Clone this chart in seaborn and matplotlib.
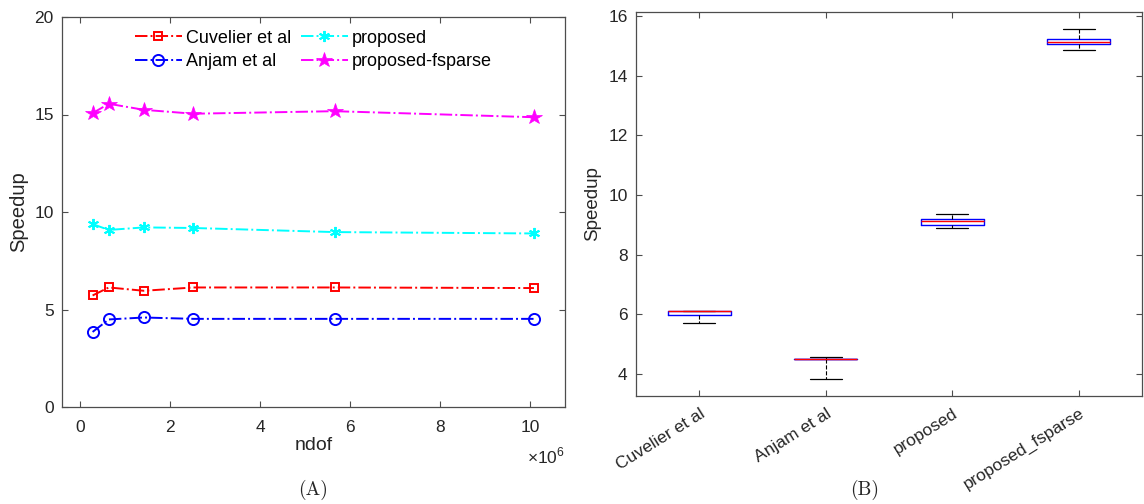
import numpy as np
import pandas as pd
import matplotlib
matplotlib.use("Agg")
import matplotlib.pyplot as plt
import seaborn as sns
from matplotlib.ticker import FuncFormatter

# ---- data ----
ndof = [0.28e6, 0.64e6, 1.42e6, 2.52e6, 5.66e6, 10.09e6]
cuvelier = [5.72, 6.13, 5.96, 6.13, 6.13, 6.10]
anjam = [3.85, 4.49, 4.59, 4.52, 4.52, 4.52]
proposed = [9.38, 9.08, 9.21, 9.18, 8.97, 8.90]
proposed_fsparse = [15.07, 15.55, 15.24, 15.04, 15.17, 14.86]

series_labels = ["Cuvelier et al", "Anjam et al", "proposed", "proposed-fsparse"]
box_labels = ["Cuvelier et al", "Anjam et al", "proposed", "proposed_fsparse"]

sns.set_theme(style="white")
plt.rcParams['font.family'] = ['Liberation Sans', 'DejaVu Sans']
plt.rcParams['mathtext.fontset'] = 'custom'
plt.rcParams['mathtext.rm'] = 'Liberation Sans'
plt.rcParams['axes.unicode_minus'] = False

fig = plt.figure(figsize=(11.44, 5.04), dpi=100)
axA = fig.add_axes([62/1144, (504-407)/504, 503/1144, 390/504])
axB = fig.add_axes([636/1144, (504-396)/504, 506/1144, 384/504])

tick_color = '#262626'
spine_color = '#4d4d4d'

# ---- Panel A ----
styles = [
    dict(color='red', marker='s', markersize=6, markerfacecolor='none',
         markeredgecolor='red', markeredgewidth=1.4),
    dict(color='blue', marker='o', markersize=8, markerfacecolor='none',
         markeredgecolor='blue', markeredgewidth=1.4),
    dict(color='cyan', marker=(6, 2, 0), markersize=8,
         markeredgecolor='cyan', markeredgewidth=1.4),
    dict(color='magenta', marker='*', markersize=11.5, markerfacecolor='magenta',
         markeredgecolor='magenta', markeredgewidth=0.5),
]
for vals, lab, st in zip([cuvelier, anjam, proposed, proposed_fsparse], series_labels, styles):
    df = pd.DataFrame({"ndof": ndof, "Speedup": vals})
    sns.lineplot(data=df, x="ndof", y="Speedup", ax=axA, label=lab,
                 linestyle='-.', linewidth=1.4, **st)

axA.set_xlim(-0.4e6, 10.78e6)
axA.set_ylim(0, 20)
axA.set_yticks([0, 5, 10, 15, 20])
axA.set_xticks([0, 2e6, 4e6, 6e6, 8e6, 10e6])
axA.xaxis.set_major_formatter(FuncFormatter(lambda v, p: f"{v/1e6:g}"))
axA.set_xlabel("ndof", fontsize=14, color=tick_color, labelpad=2)
axA.set_ylabel("Speedup", fontsize=14.5, color=tick_color, labelpad=4)
axA.text(1.0, -0.1, r"$\times10^{6}$", transform=axA.transAxes, ha='right', va='top',
         fontsize=12.5, color=tick_color)
leg = axA.legend(ncol=2, frameon=False, loc='upper center', bbox_to_anchor=(0.5, 1.0),
                 fontsize=13, handlelength=2.6, columnspacing=0.5, handletextpad=0.25,
                 labelspacing=0.35, borderaxespad=0.3)
for t in leg.get_texts():
    t.set_color('black')

# ---- Panel B ----
long_df = pd.DataFrame({
    "method": np.repeat(box_labels, len(ndof)),
    "Speedup": np.concatenate([cuvelier, anjam, proposed, proposed_fsparse]),
})
sns.boxplot(data=long_df, x="method", y="Speedup", ax=axB, order=box_labels,
            fill=False, color='blue', width=0.5, whis=(0, 100), showfliers=False,
            linewidth=1.0,
            boxprops=dict(color='blue', linewidth=1.0),
            medianprops=dict(color='red', linewidth=1.0),
            whiskerprops=dict(color='black', linestyle='--', linewidth=0.8),
            capprops=dict(color='black', linewidth=0.9))
axB.set_xlim(0.5 - 1, 4.5 - 1)
axB.set_ylim(3.27, 16.13)
axB.set_yticks([4, 6, 8, 10, 12, 14, 16])
axB.set_xlabel("")
axB.set_ylabel("Speedup", fontsize=13.5, color=tick_color, labelpad=5)

for ax in (axA, axB):
    ax.tick_params(axis='both', which='major', direction='in', length=4, width=0.8,
                   top=True, right=True, bottom=True, left=True,
                   labelsize=12.5, labelcolor=tick_color, color=spine_color, pad=6)
    for s in ax.spines.values():
        s.set_visible(True)
        s.set_color(spine_color)
        s.set_linewidth(0.9)

axA.tick_params(axis='x', pad=9)
axB.tick_params(axis='x', pad=7)
for lbl in axB.get_xticklabels():
    lbl.set_rotation(32)
    lbl.set_ha('right')
    lbl.set_rotation_mode('anchor')

fig.text(313/1144, 1 - 490/504, "(A)", ha='center', va='center', fontsize=14,
         family=['cmr10', 'Liberation Serif', 'DejaVu Serif'])
fig.text(865/1144, 1 - 490/504, "(B)", ha='center', va='center', fontsize=14,
         family=['cmr10', 'Liberation Serif', 'DejaVu Serif'])

fig.savefig("out.png", dpi=100)
